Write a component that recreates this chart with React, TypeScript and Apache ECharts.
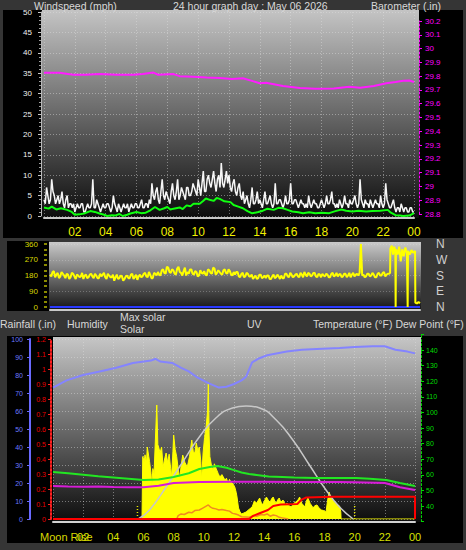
import React, { useEffect, useRef } from 'react';
import * as echarts from 'echarts';

// ---------- DATA ----------
// wind speed (mph), readings on the hour + every 10 minutes, 00:00 .. 24:00
const windGust = [
  4, 7, 3, 9, 5, 4,
  3, 6, 2, 5, 3, 2,
  1, 3, 2, 3, 1, 3,
  2, 9, 2, 3, 1, 3,
  2, 3, 1, 5, 2, 3,
  1, 3, 2, 1, 3, 2,
  3, 2, 4, 2, 3, 4,
  8, 4, 7, 3, 9, 4,
  5, 3, 8, 4, 9, 5,
  6, 4, 7, 5, 8, 6,
  9, 5, 11, 6, 10, 7,
  11, 6, 10, 13, 7, 11,
  10, 6, 9, 5, 8, 4,
  3, 5, 2, 7, 3, 6,
  4, 2, 6, 3, 5, 2,
  8, 3, 4, 2, 5, 3,
  8, 3, 4, 2, 4, 3,
  3, 5, 2, 4, 3, 2,
  4, 2, 5, 3, 6, 3,
  3, 4, 2, 5, 3, 4,
  3, 5, 2, 9, 3, 4,
  3, 4, 2, 4, 3, 5,
  2, 8, 3, 2, 4, 1,
  2, 3, 1, 2, 1, 2,
  1,
];
// wind speed (mph), readings at 5 minutes past each 10-minute mark
const windGustB = [
  3, 5, 4, 6, 3, 5,
  4, 3, 4, 2, 3, 3,
  2, 2, 3, 1, 2, 2,
  3, 2, 4, 2, 2, 2,
  3, 2, 2, 3, 1, 2,
  2, 2, 3, 2, 2, 3,
  2, 3, 2, 3, 2, 3,
  5, 6, 4, 6, 5, 6,
  4, 6, 5, 6, 4, 7,
  5, 7, 5, 6, 7, 5,
  7, 8, 6, 9, 8, 9,
  8, 9, 7, 8, 9, 8,
  7, 8, 6, 7, 5, 6,
  4, 3, 4, 3, 4, 3,
  3, 4, 3, 4, 3, 3,
  3, 4, 3, 3, 3, 4,
  3, 4, 3, 3, 3, 2,
  2, 3, 3, 3, 2, 3,
  3, 3, 3, 4, 3, 2,
  2, 3, 3, 3, 2, 3,
  4, 3, 3, 4, 2, 3,
  2, 3, 3, 3, 2, 3,
  3, 4, 2, 3, 2, 2,
  1, 2, 2, 1, 2, 1,
];

// average wind speed (hour, mph)
const windAvg: [number, number][] = [
  [0, 2.1], [0.3, 1.8], [0.5, 2.3], [0.8, 1.6], [1.1, 1.9], [1.5, 1.5], [1.8, 1.0], [2, 0.3], [2.3, 0.4],
  [2.6, 0.6], [3, 1.2], [3.3, 1.0], [3.6, 0.6], [3.9, 0.3], [4.1, 0], [4.4, 0.2], [4.6, 0.1], [4.9, 0.5],
  [5.1, 0], [5.4, 0.3], [5.6, 0.6], [6, 1], [6.3, 0.7], [6.6, 0.8], [6.9, 1.4], [7.2, 2.2], [7.5, 1.5],
  [7.8, 1.9], [8, 2.2], [8.2, 1.6], [8.4, 1.8], [8.8, 2.1], [9.0, 1.7], [9.25, 2.6], [9.5, 2.4], [9.7, 3],
  [10.1, 3], [10.3, 3.6], [10.5, 4.3], [10.8, 3.9], [11, 3.7], [11.2, 4.4], [11.4, 4.2], [11.7, 3.6],
  [12.1, 3.4], [12.3, 2.7], [12.6, 2.3], [12.9, 1.9], [13.2, 1.2], [13.5, 0.65], [13.9, 1.0], [14.2, 1.3],
  [14.5, 1.8], [14.9, 1.5], [15.2, 2.0], [15.5, 1.9], [15.8, 1.5], [16.1, 1.1], [16.5, 0.9], [16.8, 0.65],
  [17.2, 0.9], [17.6, 0.65], [18.0, 0.8], [18.5, 0.7], [18.9, 1.2], [19.3, 1.6], [19.6, 1.3], [20, 1.1],
  [20.4, 1.3], [20.9, 1.1], [21.3, 1.2], [21.8, 1.3], [22.3, 1.5], [22.5, 0.8], [22.8, 0.2], [23.1, 0.1],
  [23.3, 0], [23.7, 0.1], [24, 0.7],
];

// barometer (hour, inHg)
const barometer: [number, number][] = [
  [0, 29.825], [1, 29.825], [1.9, 29.81], [2.7, 29.81], [3.6, 29.815], [4.7, 29.81], [5.8, 29.81],
  [6.4, 29.815], [7.1, 29.826], [7.4, 29.81], [8.4, 29.815], [8.8, 29.8], [9.7, 29.795], [10.55, 29.79],
  [11.4, 29.787], [12.2, 29.78], [12.9, 29.785], [13.6, 29.762], [14, 29.748], [14.4, 29.752],
  [15.5, 29.728], [16.6, 29.714], [17.6, 29.709], [18.8, 29.711], [19.8, 29.723], [20.5, 29.716],
  [21.4, 29.728], [22.2, 29.748], [22.8, 29.758], [23.3, 29.767], [23.7, 29.768], [24, 29.758],
];

// wind direction (deg), every 10 minutes 00:00 .. 21:50
const windDir = [
  185, 200, 170, 195, 175, 190,
  165, 185, 170, 190, 160, 180,
  175, 160, 185, 170, 190, 165,
  180, 165, 175, 195, 160, 180,
  170, 150, 185, 165, 175, 160,
  180, 165, 190, 170, 155, 185,
  175, 195, 170, 185, 165, 190,
  200, 180, 215, 190, 225, 195,
  210, 185, 230, 195, 205, 180,
  190, 215, 185, 200, 180, 195,
  205, 180, 210, 190, 220, 195,
  200, 185, 215, 190, 205, 180,
  185, 200, 170, 195, 175, 190,
  175, 160, 180, 165, 185, 170,
  165, 180, 160, 185, 170, 175,
  180, 165, 190, 170, 185, 175,
  190, 170, 185, 200, 175, 190,
  180, 195, 170, 185, 190, 175,
  185, 170, 195, 180, 175, 190,
  175, 190, 180, 170, 195, 185,
  180, 360, 185, 175, 190, 180,
  185, 170, 195, 180, 200, 185,
];
// wind direction (deg), readings at 5 minutes past each 10-minute mark, 00:05 .. 21:55
const windDirB = [
  175, 205, 185, 165, 200, 180,
  190, 160, 195, 175, 185, 170,
  195, 180, 165, 185, 175, 190,
  165, 190, 185, 170, 190, 170,
  185, 170, 160, 180, 150, 175,
  165, 185, 160, 185, 175, 170,
  190, 175, 200, 165, 195, 180,
  185, 210, 195, 230, 200, 215,
  190, 220, 200, 180, 225, 200,
  215, 190, 205, 175, 210, 190,
  185, 215, 195, 225, 185, 210,
  190, 210, 195, 215, 185, 200,
  200, 175, 190, 170, 195, 175,
  185, 170, 160, 185, 165, 180,
  180, 160, 175, 165, 185, 160,
  165, 190, 175, 195, 170, 185,
  175, 195, 170, 185, 195, 175,
  195, 175, 190, 170, 180, 190,
  170, 190, 175, 195, 185, 170,
  190, 170, 195, 185, 175, 190,
  195, 180, 170, 190, 175, 195,
  170, 190, 180, 195, 175, 190,
];
// wind direction after 22:00 (hour, deg)
const windDirTail: [number, number][] = [
  [22.0, 190], [22.06, 195], [22.08, 335], [22.17, 350], [22.25, 300], [22.33, 345], [22.4, 320],
  [22.42, 0], [22.44, 330], [22.55, 300], [22.65, 345], [22.75, 260], [22.85, 330], [22.95, 290],
  [23.05, 340], [23.15, 310], [23.2, 0], [23.22, 320], [23.35, 300], [23.45, 325], [23.55, 310],
  [23.68, 320], [23.7, 25], [23.8, 20], [23.9, 28], [24, 22],
];

// solar radiation (hour, W/m2)
const solar: [number, number][] = [
  [0, 0], [5.9, 0], [5.95, 520], [6.05, 480], [6.1, 535], [6.2, 470], [6.25, 600], [6.35, 520], [6.4, 480],
  [6.5, 380], [6.55, 270], [6.62, 420], [6.7, 380], [6.8, 700], [6.88, 950], [6.95, 620], [7.0, 600],
  [7.1, 550], [7.2, 600], [7.3, 433], [7.4, 500], [7.5, 550], [7.6, 470], [7.7, 540], [7.8, 420],
  [7.86, 350], [7.95, 560], [8.0, 700], [8.1, 580], [8.2, 520], [8.3, 420], [8.4, 333], [8.5, 450],
  [8.6, 533], [8.75, 470], [8.9, 433], [9.05, 520], [9.2, 658], [9.3, 560], [9.4, 550], [9.5, 633],
  [9.6, 570], [9.7, 600], [9.8, 480], [9.85, 325], [9.95, 550], [10.05, 680], [10.15, 767], [10.25, 900],
  [10.3, 1133], [10.35, 700], [10.4, 520], [10.5, 450], [10.6, 408], [10.7, 460], [10.8, 425],
  [10.95, 380], [11.06, 350], [11.2, 370], [11.4, 325], [11.5, 340], [11.6, 300], [11.7, 330],
  [11.8, 308], [11.95, 290], [12.05, 267], [12.15, 220], [12.2, 183], [12.3, 92], [12.4, 60], [12.5, 42],
  [12.65, 50], [12.8, 58], [13.0, 80], [13.2, 100], [13.35, 150], [13.5, 133], [13.7, 175], [13.8, 140],
  [13.9, 117], [14.05, 160], [14.15, 183], [14.3, 150], [14.4, 142], [14.5, 170], [14.6, 183],
  [14.7, 150], [14.8, 133], [14.9, 160], [15.0, 175], [15.1, 140], [15.25, 158], [15.4, 120],
  [15.5, 133], [15.65, 110], [15.8, 100], [15.95, 130], [16.1, 142], [16.25, 160], [16.35, 183],
  [16.5, 130], [16.7, 100], [16.8, 150], [16.9, 175], [17.05, 130], [17.25, 92], [17.35, 110],
  [17.5, 117], [17.65, 90], [17.8, 75], [17.95, 70], [18.1, 58], [18.2, 150], [18.3, 225], [18.4, 190],
  [18.45, 175], [18.6, 150], [18.7, 133], [18.85, 120], [19.0, 108], [19.08, 60], [19.1, 0], [24, 0],
];

// theoretical max solar (hour, W/m2)
const maxSolar: [number, number][] = [
  [5.65, 0], [6.4, 75], [7.5, 267], [8.6, 475], [9.7, 683], [10.8, 842], [11.9, 925], [12.8, 942],
  [13.7, 925], [14.8, 825], [15.9, 658], [17.0, 450], [18.1, 242], [19.0, 100], [19.9, 0],
];

// sunrise / sunset markers (hour) and their height (W/m2)
const sunMarks = [5.6, 20.0];
const sunMarkHeight = 125;

// UV index (hour, UV)
const uvIndex: [number, number][] = [
  [8.2, 0], [8.3, 0.3], [8.5, 0.45], [8.7, 0.4], [9.0, 0.6], [9.2, 0.55], [9.4, 0.75], [9.7, 0.8],
  [9.9, 0.95], [10.1, 1.1], [10.3, 1.25], [10.45, 1.05], [10.6, 0.95], [10.8, 0.9], [11.0, 0.8],
  [11.2, 0.85], [11.5, 0.75], [11.7, 0.7], [11.9, 0.5], [12.1, 0.45], [12.3, 0.35], [12.5, 0.2],
  [12.8, 0.18], [13.0, 0.15], [13.3, 0.3], [13.5, 0.25], [13.8, 0.4], [14.0, 0.35], [14.2, 0.45],
  [14.4, 0.25], [14.6, 0.35], [14.8, 0.3], [15.0, 0.15], [15.2, 0.1], [15.6, 0],
];

// rainfall (hour, in)
const rainfall: [number, number][] = [
  [0, 0], [13.0, 0], [13.25, 0.02], [13.7, 0.038], [14.25, 0.06], [14.6, 0.087], [15.1, 0.096],
  [16.2, 0.1], [16.45, 0.127], [16.8, 0.144], [18.5, 0.149], [24, 0.149], [24, 0],
];

// humidity (hour, %)
const humidity: [number, number][] = [
  [0, 73], [0.9, 77], [2, 80], [3.1, 82], [4.2, 84], [5.3, 86.7], [6.5, 88], [6.8, 89], [7.1, 87.5],
  [7.9, 86.7], [8.5, 84], [9.0, 82], [9.5, 79], [10.3, 75.5], [11, 73], [11.5, 73.5], [12, 75],
  [12.5, 77], [12.8, 79], [13.2, 87], [13.6, 89], [14.2, 91], [15.5, 93], [16.5, 94], [17.5, 94.5],
  [19, 95], [20, 95.5], [21.2, 96], [22, 96], [22.7, 94], [23.5, 93], [24, 92],
];

// temperature (hour, F)
const temperature: [number, number][] = [
  [0, 61.8], [1, 61], [2, 60], [3, 59], [4, 58.3], [5, 57.5], [6, 56.7], [7, 57], [8, 58.6], [9, 61],
  [9.7, 63.7], [10.4, 65], [10.9, 65.6], [11.5, 64.5], [12, 63], [12.5, 61.5], [13, 60.5], [13.5, 59.9],
  [14.3, 58.9], [15.2, 58.6], [16, 58.3], [17.4, 58], [18.5, 58], [19.5, 58], [20.1, 58], [21, 57.5],
  [22.1, 56.7], [23, 54.7], [24, 52.8],
];

// dew point (hour, F)
const dewPoint: [number, number][] = [
  [0, 52.8], [1, 52.5], [2, 52.3], [3, 52.5], [4, 52.2], [5, 52], [6, 52], [7, 53], [8, 54.7],
  [9.7, 55.4], [12, 55.6], [14, 55.5], [16, 55.4], [17.4, 55.4], [19, 55.4], [20, 55.3], [22, 54.7],
  [23, 52], [24, 50.3],
];

const compass: Record<number, string> = { 0: 'N', 90: 'E', 180: 'S', 270: 'W', 360: 'N' };

// ---------- CHART ----------
const FONT = 'Liberation Sans, Arial, sans-serif';
const grad = (a: string, b: string) => ({
  type: 'linear', x: 0, y: 0, x2: 0, y2: 1,
  colorStops: [{ offset: 0, color: a }, { offset: 1, color: b }],
});
const gridDots = { show: true, lineStyle: { color: 'rgba(225,225,225,0.45)', type: [1, 2], width: 1 } };
const hourLabel = (v: number) => (v === 0 ? '' : v === 24 ? '00' : String(v).padStart(2, '0'));

// merge the on-the-10-minute readings with the 5-past readings, in time order
function interleave(a: number[], b: number[]): number[][] {
  const out: number[][] = [];
  a.forEach((v, i) => {
    out.push([i / 6, v]);
    if (i < b.length) out.push([i / 6 + 1 / 12, b[i]]);
  });
  return out;
}

function buildOption() {
  const texts = [
    { t: 'Windspeed (mph)', x: 34, y: 5.5 },
    { t: '24 hour graph day : May 06 2026', x: 173, y: 5.5 },
    { t: 'Barometer (.in)', x: 371, y: 5.5 },
    { t: 'Rainfall (.in)', x: 0, y: 324 },
    { t: 'Humidity', x: 67, y: 324 },
    { t: 'Max solar', x: 120, y: 317 },
    { t: 'Solar', x: 120, y: 329 },
    { t: 'UV', x: 247, y: 324 },
    { t: 'Temperature (°F) Dew Point (°F)', x: 313, y: 324 },
  ];
  const graphic: any[] = [
    { type: 'rect', z: -10, shape: { x: 0, y: 0, width: 466, height: 550 }, style: { fill: '#353535' } },
    { type: 'rect', z: -9, shape: { x: 3, y: 10, width: 460, height: 228 }, style: { fill: '#000' } },
    { type: 'rect', z: -9, shape: { x: 7, y: 241, width: 42, height: 70 }, style: { fill: '#000' } },
    { type: 'rect', z: -9, shape: { x: 7, y: 336, width: 456, height: 207 }, style: { fill: '#000' } },
    { type: 'rect', z: -8, shape: { x: 42, y: 10, width: 377, height: 208 }, style: { fill: grad('#c4c4c4', '#0c0c0c') } },
    { type: 'rect', z: -8, shape: { x: 49, y: 242, width: 372, height: 68 }, style: { fill: grad('#cacaca', '#141414') } },
    { type: 'rect', z: -8, shape: { x: 53, y: 337, width: 368, height: 185 }, style: { fill: grad('#c6c6c6', '#0c0c0c') } },
    ...texts.map((o) => ({
      type: 'text', z: 50, x: o.x, y: o.y,
      style: { text: o.t, fill: '#d8d8d8', fontSize: 10.5, fontFamily: FONT, verticalAlign: 'middle' },
    })),
    {
      type: 'text', z: 50, x: 40, y: 537,
      style: { text: 'Moon Rise', fill: '#d8d800', fontSize: 11, fontFamily: FONT, verticalAlign: 'middle' },
    },
  ];

  const xBase = (grid: number, extra: any = {}) => ({
    type: 'value', gridIndex: grid, min: 0, max: 24, interval: 2,
    axisLine: { show: false }, axisTick: { show: false },
    axisLabel: { show: false }, splitLine: { show: false }, ...extra,
  });

  return {
    animation: false,
    graphic,
    grid: [
      { left: 44, right: 52, top: 12, height: 204 },
      { left: 44, right: 52, top: 21, height: 193 },
      { left: 50, right: 46, top: 244, height: 63 },
      { left: 53, right: 51, top: 339, height: 180 },
      { left: 53, right: 51, top: 334.4, height: 187.2 },
    ],
    xAxis: [
      xBase(0, {
        axisLine: { show: true, onZero: false, lineStyle: { color: '#c8c8c8', width: 2 } },
        offset: 2,
        axisLabel: { show: true, formatter: hourLabel, color: '#f0f000', fontSize: 12, fontFamily: FONT, margin: 8 },
        splitLine: gridDots,
      }),
      xBase(1),
      xBase(2, {
        axisLine: { show: true, onZero: false, lineStyle: { color: '#c8c8c8', width: 2 } },
        offset: 3,
      }),
      xBase(3, {
        axisLine: { show: true, onZero: false, lineStyle: { color: '#d0d0d0', width: 2 } },
        offset: 3,
        axisLabel: { show: true, formatter: hourLabel, color: '#d8e000', fontSize: 11, fontFamily: FONT, margin: 9 },
        splitLine: gridDots,
      }),
      xBase(4),
    ],
    yAxis: [
      {
        type: 'value', gridIndex: 0, min: 0, max: 50, interval: 5, position: 'left', offset: 3,
        axisLine: { show: true, onZero: false, lineStyle: { color: '#b8b8b8', width: 1 } },
        axisTick: { show: true, length: 3, lineStyle: { color: '#c8c8c8' } },
        minorTick: { show: true, splitNumber: 5, length: 2, lineStyle: { color: '#a0a0a0' } },
        axisLabel: { color: '#f0f0f0', fontSize: 8, fontFamily: FONT, margin: 9 },
        splitLine: gridDots,
      },
      {
        type: 'value', gridIndex: 1, min: 28.8, max: 30.2, interval: 0.1, position: 'right', offset: 5,
        axisLine: { show: true, onZero: false, lineStyle: { color: '#ff00ff', width: 1, type: [2, 2] } },
        axisTick: { show: true, length: 3, lineStyle: { color: '#ff00ff' } },
        axisLabel: {
          color: '#ff00ff', fontSize: 8, fontFamily: FONT, margin: 6,
          formatter: (v: number) => String(Math.round(v * 10) / 10),
        },
        splitLine: { show: false },
      },
      {
        type: 'value', gridIndex: 2, min: 0, max: 360, interval: 90, position: 'left', offset: 3,
        axisLine: { show: false, onZero: false },
        axisTick: { show: true, length: 3, lineStyle: { color: '#8a8a00', width: 2 } },
        minorTick: { show: true, splitNumber: 3, length: 3, lineStyle: { color: '#8a8a00', width: 2 } },
        axisLabel: { color: '#d8d800', fontSize: 8, fontFamily: FONT, margin: 9 },
        splitLine: { show: true, lineStyle: { color: 'rgba(225,225,225,0.3)', type: [1, 2] } },
      },
      {
        type: 'value', gridIndex: 3, min: 0, max: 100, interval: 10, position: 'left', offset: 23,
        axisLine: { show: true, onZero: false, lineStyle: { color: '#6a6aff', width: 2 } },
        axisTick: { show: true, length: 3, lineStyle: { color: '#6a6aff' } },
        axisLabel: { color: '#6a78ff', fontSize: 7, fontFamily: FONT, margin: 7 },
        splitLine: gridDots,
      },
      {
        type: 'value', gridIndex: 3, min: 0, max: 1.2, interval: 0.1, position: 'left', offset: 2,
        axisLine: { show: true, onZero: false, lineStyle: { color: '#ff2020', width: 2, type: [2, 2] } },
        axisTick: { show: true, length: 3, lineStyle: { color: '#ff2020' } },
        axisLabel: {
          color: '#e80000', fontSize: 7, fontFamily: FONT, margin: 5,
          formatter: (v: number) => String(Math.round(v * 10) / 10),
        },
        splitLine: { show: false },
      },
      { type: 'value', gridIndex: 3, min: 0, max: 1500, show: false, axisLine: { onZero: false }, splitLine: { show: false } },
      { type: 'value', gridIndex: 3, min: 0, max: 16, show: false, axisLine: { onZero: false }, splitLine: { show: false } },
      {
        type: 'value', gridIndex: 4, min: 30, max: 150, interval: 10, position: 'right', offset: 6,
        axisLine: { show: true, onZero: false, lineStyle: { color: '#00d800', width: 1, type: [2, 2] } },
        axisTick: { show: true, length: 3, lineStyle: { color: '#00d800' } },
        axisLabel: {
          color: '#00dd00', fontSize: 7, fontFamily: FONT, margin: 5,
          formatter: (v: number) => (v === 30 || v === 150 ? '' : String(v)),
        },
        splitLine: { show: false },
      },
      {
        type: 'value', gridIndex: 2, min: 0, max: 360, interval: 90, position: 'right', offset: 0,
        axisLine: { show: false, onZero: false }, axisTick: { show: false }, splitLine: { show: false },
        axisLabel: {
          color: '#d0d0d0', fontSize: 12, fontFamily: FONT, margin: 16,
          formatter: (v: number) => compass[v] ?? '',
        },
      },
    ],
    series: [
      {
        type: 'line', xAxisIndex: 1, yAxisIndex: 1, data: barometer, symbol: 'none', silent: true,
        lineStyle: { color: '#ff1cff', width: 2 },
      },
      {
        type: 'line', xAxisIndex: 0, yAxisIndex: 0, data: interleave(windGust, windGustB), symbol: 'none',
        silent: true, lineStyle: { color: '#f6f6f6', width: 1.5 },
      },
      {
        type: 'line', xAxisIndex: 0, yAxisIndex: 0, data: windAvg, symbol: 'none', silent: true,
        lineStyle: { color: '#10ff10', width: 2 },
      },
      {
        type: 'line', xAxisIndex: 2, yAxisIndex: 2, data: [[0, 0], [24, 0]], symbol: 'none', silent: true,
        lineStyle: { color: '#2838ff', width: 2 },
      },
      {
        type: 'line', xAxisIndex: 2, yAxisIndex: 2, data: [...interleave(windDir, windDirB), ...windDirTail],
        symbol: 'none', silent: true, lineStyle: { color: '#ffff00', width: 2 },
      },
      {
        type: 'line', xAxisIndex: 3, yAxisIndex: 5, data: solar, symbol: 'none', silent: true,
        lineStyle: { color: '#ffff00', width: 1 }, areaStyle: { color: '#ffff00', opacity: 1 },
      },
      ...sunMarks.map((h) => ({
        type: 'line', xAxisIndex: 3, yAxisIndex: 5, data: [[h, 0], [h, sunMarkHeight]], symbol: 'none',
        silent: true, lineStyle: { color: '#e8e800', width: 1.5, type: [1, 2] },
      })),
      {
        type: 'line', xAxisIndex: 3, yAxisIndex: 5, data: maxSolar, symbol: 'none', silent: true, smooth: true,
        lineStyle: { color: '#c8c8c8', width: 1.5 },
      },
      {
        type: 'line', xAxisIndex: 4, yAxisIndex: 7, data: dewPoint, symbol: 'none', silent: true,
        lineStyle: { color: '#d81cd8', width: 2 },
      },
      {
        type: 'line', xAxisIndex: 4, yAxisIndex: 7, data: temperature, symbol: 'none', silent: true,
        lineStyle: { color: '#22e622', width: 2 },
      },
      {
        type: 'line', xAxisIndex: 3, yAxisIndex: 6, data: uvIndex, symbol: 'none', silent: true,
        lineStyle: { color: '#f08a20', width: 1.5 },
      },
      {
        type: 'line', xAxisIndex: 3, yAxisIndex: 4, data: rainfall, symbol: 'none', silent: true,
        lineStyle: { color: '#ff0000', width: 2 },
      },
      {
        type: 'line', xAxisIndex: 3, yAxisIndex: 3, data: humidity, symbol: 'none', silent: true,
        lineStyle: { color: '#8484ff', width: 2 },
      },
    ],
  };
}

export default function App() {
  const ref = useRef<HTMLDivElement>(null);
  useEffect(() => {
    if (!ref.current) return;
    const chart = echarts.init(ref.current, null, { renderer: 'svg' });
    chart.setOption(buildOption() as any);
    return () => chart.dispose();
  }, []);
  return (
    <div
      ref={ref}
      style={{ position: 'fixed', left: 0, top: 0, width: 466, height: 550, background: '#353535' }}
    />
  );
}
